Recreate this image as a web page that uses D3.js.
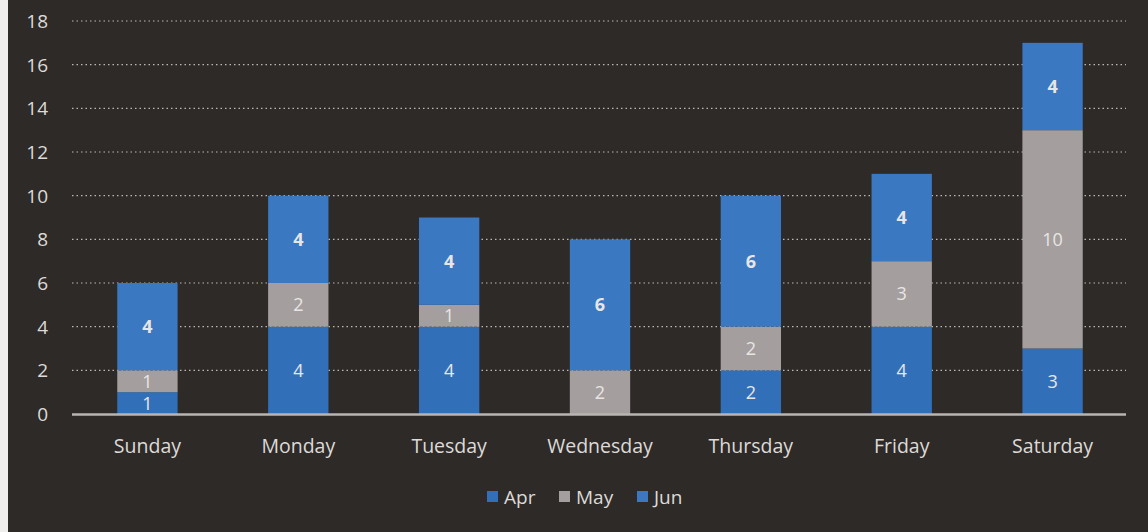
<!DOCTYPE html>
<html><head><meta charset="utf-8">
<script src="https://cdn.jsdelivr.net/npm/d3@7"></script>
<style>html,body{margin:0;padding:0;background:#2d2927;}svg{display:block}</style>
</head><body>
<svg id="c" width="1148" height="532"></svg>
<script>
const categories = ["Sunday","Monday","Tuesday","Wednesday","Thursday","Friday","Saturday"];
const seriesNames = ["Apr","May","Jun"];
const apr = [1,4,4,0,2,4,3];
const may = [1,2,1,2,2,3,10];
const jun = [4,4,4,6,6,4,4];
const yTicks = [0,2,4,6,8,10,12,14,16,18];
const colors = ["#3170b9","#a49e9e","#3a78c1"];

const svg = d3.select("#c");
const W = 1148, H = 532;
svg.append("rect").attr("width",W).attr("height",H).attr("fill","#2e2a28");
svg.append("rect").attr("width",8).attr("height",H).attr("fill","#eeeeec");

const x = d3.scaleBand().domain(categories).range([72,1128]).paddingInner(0.6).paddingOuter(0.3);
const y = d3.scaleLinear().domain([0,18]).range([414,21]);
const font = "'Open Sans', sans-serif";
const txt = "#dddad7";

// grid
svg.append("g").selectAll("line").data(yTicks.filter(d=>d>0)).join("line")
  .attr("x1",72).attr("x2",1126).attr("y1",d=>y(d)).attr("y2",d=>y(d))
  .attr("stroke","#bdb8b4").attr("stroke-width",1.2).attr("stroke-dasharray","1.5,3");

// y axis labels
const yAxis = d3.axisLeft(y).tickValues(yTicks).tickSize(0).tickPadding(0);
const ya = svg.append("g").attr("transform","translate(48,0)").call(yAxis);
ya.select(".domain").remove();
ya.selectAll("text").attr("fill",txt).attr("font-size",19).attr("font-family",font).attr("dy","0.35em");

// stacks
const rows = categories.map((c,i)=>({cat:c,Apr:apr[i],May:may[i],Jun:jun[i]}));
const stack = d3.stack().keys(seriesNames)(rows);
const g = svg.append("g");
stack.forEach((s,si)=>{
  g.selectAll(null).data(s).join("rect")
    .attr("x",d=>x(d.data.cat)).attr("width",x.bandwidth())
    .attr("y",d=>y(d[1])).attr("height",d=>y(d[0])-y(d[1]))
    .attr("fill",colors[si]);
  g.selectAll(null).data(s.filter(d=>d[1]-d[0]>0)).join("text")
    .attr("x",d=>x(d.data.cat)+x.bandwidth()/2)
    .attr("y",d=>(y(d[0])+y(d[1]))/2).attr("dy","0.36em")
    .attr("text-anchor","middle").attr("fill","#e8e6e4")
    .attr("font-family",font).attr("font-size",18)
    .attr("font-weight",si===2?"bold":"normal")
    .text(d=>d[1]-d[0]);
});

// baseline
svg.append("line").attr("x1",72).attr("x2",1126).attr("y1",y(0)+0.5).attr("y2",y(0)+0.5)
  .attr("stroke","#b9b5b2").attr("stroke-width",2.5);

// x labels
const xAxis = d3.axisBottom(x).tickSize(0).tickPadding(0);
const xa = svg.append("g").attr("transform","translate(0,446)").call(xAxis);
xa.select(".domain").remove();
xa.selectAll("text").attr("fill",txt).attr("font-size",19.5).attr("font-family",font).attr("dy","0.35em");

// legend
const leg = svg.append("g");
const items = [{n:"Apr",x:487},{n:"May",x:559},{n:"Jun",x:637}];
items.forEach((it,i)=>{
  leg.append("rect").attr("x",it.x).attr("y",491).attr("width",11).attr("height",11).attr("fill",colors[i]);
  leg.append("text").attr("x",it.x+17).attr("y",497).attr("dy","0.36em")
    .attr("fill",txt).attr("font-family",font).attr("font-size",19).text(it.n);
});
</script>
</body></html>
